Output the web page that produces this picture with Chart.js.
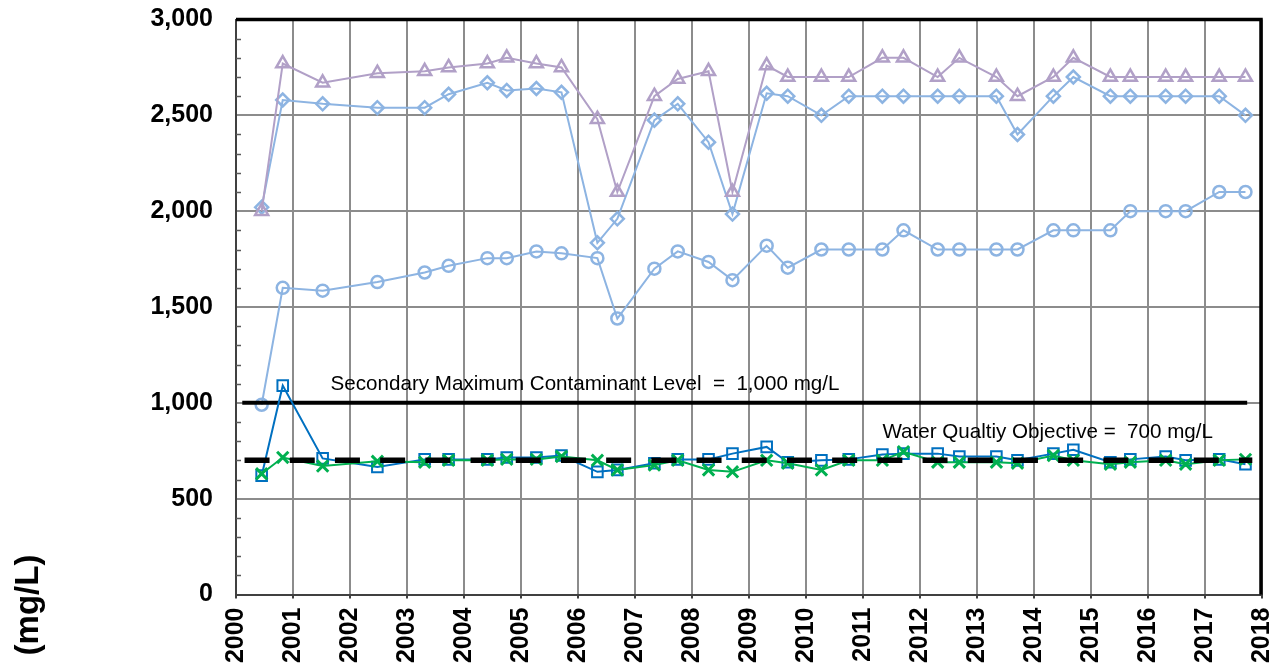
<!DOCTYPE html>
<html>
<head>
<meta charset="utf-8">
<title>TDS (mg/L)</title>
<script src="https://cdn.jsdelivr.net/npm/chart.js@4.4.1/dist/chart.umd.min.js"></script>
<style>
  html, body { margin: 0; padding: 0; background: #ffffff; }
  #wrap { width: 1273px; height: 668px; }
</style>
</head>
<body>
<div id="wrap"><canvas id="tdsChart" width="1273" height="668"></canvas></div>
<script>
// sample dates as decimal years (same for every well)
var sampleDates = [2000.45, 2000.82, 2001.52, 2002.48, 2003.31, 2003.73, 2004.41, 2004.75, 2005.27, 2005.71,
                   2006.34, 2006.69, 2007.34, 2007.75, 2008.29, 2008.71, 2009.31, 2009.68, 2010.27, 2010.75,
                   2011.34, 2011.71, 2012.31, 2012.69, 2013.34, 2013.71, 2014.34, 2014.69, 2015.34, 2015.69,
                   2016.31, 2016.66, 2017.25, 2017.71];

// TDS, mg/L
var triangleWell = [2000, 2770, 2670, 2720, 2730, 2750, 2770, 2800, 2770, 2750,
                    2480, 2100, 2600, 2690, 2730, 2100, 2760, 2700, 2700, 2700,
                    2800, 2800, 2700, 2800, 2700, 2600, 2700, 2800, 2700, 2700,
                    2700, 2700, 2700, 2700];
var diamondWell = [2020, 2580, 2560, 2540, 2540, 2610, 2670, 2630, 2640, 2620,
                   1835, 1960, 2475, 2560, 2360, 1985, 2615, 2600, 2500, 2600,
                   2600, 2600, 2600, 2600, 2600, 2400, 2600, 2700, 2600, 2600,
                   2600, 2600, 2600, 2500];
var circleWell = [990, 1600, 1585, 1630, 1680, 1715, 1755, 1755, 1790, 1780,
                  1755, 1440, 1700, 1790, 1735, 1640, 1820, 1705, 1800, 1800,
                  1800, 1900, 1800, 1800, 1800, 1800, 1900, 1900, 1900, 2000,
                  2000, 2000, 2100, 2100];
var squareWell = [620, 1090, 710, 665, 705, 705, 705, 715, 715, 725,
                  640, 650, 685, 705, 705, 735, 770, 690, 700, 705,
                  730, 735, 735, 720, 720, 700, 735, 755, 690, 705,
                  720, 700, 705, 680];
var crossWell = [630, 715, 670, 695, 690, 700, 700, 705, 705, 720,
                 700, 650, 675, 700, 650, 640, 700, 685, 650, 700,
                 700, 745, 690, 690, 690, 685, 725, 700, 680, 690,
                 700, 680, 700, 705];

// regulatory limits
var smclDates = [2000.11, 2017.74];
var smclLevel = [1000, 1000];
var wqoDates = [2000.15, 2017.83];
var wqoLevel = [700, 700];

var smclText = 'Secondary Maximum Contaminant Level  =  1,000 mg/L';
var wqoText = 'Water Qualtiy Objective =  700 mg/L';
var yTitle = '(mg/L)';

var FONT = "'Liberation Sans', Arial, sans-serif";

function toPoints(xs, ys) {
  return xs.map(function (x, i) { return { x: x, y: ys[i] }; });
}

function wellSeries(values, color, shape, radius, lineWidth, markerWidth) {
  return {
    data: toPoints(sampleDates, values),
    borderColor: color,
    borderWidth: lineWidth,
    pointStyle: shape,
    pointRadius: radius,
    pointBorderColor: color,
    pointBackgroundColor: 'rgba(0,0,0,0)',
    pointBorderWidth: markerWidth,
    tension: 0,
    clip: false
  };
}

// extra bits Excel draws: inner minor ticks, top/right frame, limit labels, axis title
var extrasPlugin = {
  id: 'tdsExtras',
  afterDraw: function (chart) {
    var ctx = chart.ctx;
    var area = chart.chartArea;
    var xs = chart.scales.x;
    var ys = chart.scales.y;
    ctx.save();

    // minor ticks on the value axis
    ctx.strokeStyle = '#595959';
    ctx.lineWidth = 1.5;
    for (var v = 100; v < 3000; v += 100) {
      if (v % 500 === 0) continue;
      var py = Math.round(ys.getPixelForValue(v)) + 0.5;
      ctx.beginPath();
      ctx.moveTo(area.left, py);
      ctx.lineTo(area.left + 5, py);
      ctx.stroke();
    }

    // heavy frame on top and right
    ctx.strokeStyle = '#000000';
    ctx.lineWidth = 3.5;
    ctx.beginPath();
    ctx.moveTo(area.left, area.top);
    ctx.lineTo(area.right - 1, area.top);
    ctx.lineTo(area.right - 1, area.bottom);
    ctx.stroke();

    // limit labels
    ctx.fillStyle = '#000000';
    ctx.font = '20.6px ' + FONT;
    ctx.textAlign = 'left';
    ctx.textBaseline = 'alphabetic';
    ctx.fillText(smclText, xs.getPixelForValue(2001.66), ys.getPixelForValue(1068));
    ctx.fillText(wqoText, xs.getPixelForValue(2011.34), ys.getPixelForValue(815));

    // value axis title
    ctx.translate(29, 605);
    ctx.rotate(-Math.PI / 2);
    ctx.font = 'bold 33px ' + FONT;
    ctx.textAlign = 'center';
    ctx.textBaseline = 'middle';
    ctx.fillText(yTitle, 0, 0);
    ctx.restore();
  }
};

var ctx = document.getElementById('tdsChart').getContext('2d');
new Chart(ctx, {
  type: 'line',
  data: {
    datasets: [
      // first dataset is painted last, so the dashed objective sits on top
      {
        data: toPoints(wqoDates, wqoLevel),
        borderColor: '#000000',
        borderWidth: 5.5,
        borderDash: [25, 20.2],
        borderCapStyle: 'butt',
        pointRadius: 0,
        clip: false
      },
      wellSeries(crossWell, '#00B050', 'crossRot', 8, 2, 3),
      wellSeries(squareWell, '#0070C0', 'rect', 7.5, 2, 2),
      {
        data: toPoints(smclDates, smclLevel),
        borderColor: '#000000',
        borderWidth: 4,
        pointRadius: 0,
        clip: false
      },
      wellSeries(triangleWell, '#B1A0C7', 'triangle', 7.5, 2, 2.5),
      wellSeries(diamondWell, '#8DB4E2', 'rectRot', 6.5, 2, 2.5),
      wellSeries(circleWell, '#8DB4E2', 'circle', 6, 2, 2.5)
    ]
  },
  options: {
    responsive: false,
    animation: false,
    layout: { padding: { top: 19.5, right: 11, bottom: 0, left: 0 } },
    plugins: {
      legend: { display: false },
      tooltip: { enabled: false }
    },
    scales: {
      x: {
        type: 'linear',
        min: 2000,
        max: 2018,
        afterFit: function (scale) {
          scale.height = 73.5;
          scale.paddingLeft = 0;
          scale.paddingRight = 0;
        },
        border: { color: '#404040', width: 2 },
        grid: {
          color: '#8c8c8c',
          lineWidth: 2,
          tickLength: 4,
          tickColor: '#404040',
          tickWidth: 2
        },
        ticks: {
          stepSize: 1,
          minRotation: 90,
          maxRotation: 90,
          padding: 9,
          color: '#000000',
          font: { family: FONT, size: 25, weight: 'bold' },
          callback: function (value) { return String(value); }
        }
      },
      y: {
        min: 0,
        max: 3000,
        afterFit: function (scale) {
          scale.width = 236;
          scale.paddingTop = 0;
          scale.paddingBottom = 0;
        },
        border: { color: '#404040', width: 2 },
        grid: {
          color: '#8c8c8c',
          lineWidth: 2,
          drawTicks: false
        },
        ticks: {
          stepSize: 500,
          padding: 23,
          color: '#000000',
          font: { family: FONT, size: 25, weight: 'bold' },
          callback: function (value) { return value.toLocaleString('en-US'); }
        }
      }
    }
  },
  plugins: [extrasPlugin]
});
</script>
</body>
</html>
